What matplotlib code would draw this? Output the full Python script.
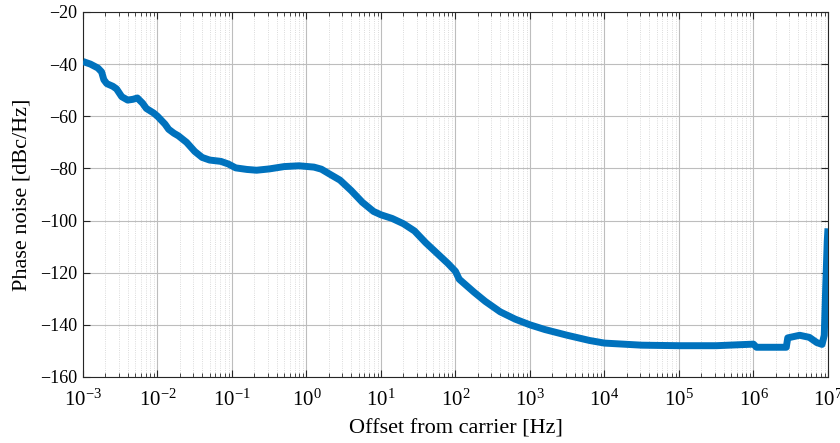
import matplotlib
matplotlib.use("Agg")
import matplotlib.pyplot as plt
from matplotlib.ticker import LogLocator, MultipleLocator, NullFormatter
import numpy as np

# phase noise (log10 of offset in Hz, dBc/Hz)
log_offset = [
    -3.00, -2.90, -2.80, -2.75, -2.72, -2.68, -2.60, -2.55, -2.48, -2.40,
    -2.33, -2.27, -2.20, -2.15, -2.05, -2.00, -1.90, -1.85, -1.78, -1.72,
    -1.61, -1.50, -1.40, -1.30, -1.15, -1.05, -0.95, -0.80, -0.67, -0.50,
    -0.30, -0.10, 0.10, 0.20, 0.30, 0.45, 0.60, 0.75, 0.90, 1.00,
    1.15, 1.30, 1.45, 1.60, 1.75, 1.90, 2.00, 2.05, 2.15, 2.25,
    2.40, 2.60, 2.80, 3.00, 3.20, 3.50, 3.80, 4.00, 4.50, 5.00,
    5.50, 6.00, 6.04, 6.44, 6.46, 6.62, 6.75, 6.85, 6.92, 6.95,
    6.97, 6.99, 7.00,
]
phase_noise = [
    -39.0, -40.0, -41.5, -43.0, -46.0, -47.5, -48.5, -49.5, -52.5, -53.8,
    -53.5, -53.0, -55.0, -57.0, -58.8, -60.0, -63.0, -65.0, -66.5, -67.5,
    -70.0, -73.5, -75.8, -76.8, -77.3, -78.3, -79.8, -80.4, -80.7, -80.2,
    -79.3, -79.0, -79.5, -80.3, -82.0, -84.5, -88.5, -93.0, -96.5, -97.8,
    -99.2, -101.2, -104.0, -108.5, -112.5, -116.5, -119.5, -122.5, -125.0, -127.5,
    -131.0, -135.0, -137.8, -140.0, -141.8, -144.0, -146.0, -147.0, -147.8, -148.0,
    -148.0, -147.4, -148.6, -148.6, -145.0, -144.0, -144.8, -146.8, -147.5, -144.0,
    -125.0, -108.0, -103.0,
]

plt.rcParams["font.family"] = ["Liberation Serif", "DejaVu Serif"]
plt.rcParams["mathtext.fontset"] = "stix"

fig = plt.figure(figsize=(8.4, 4.43), dpi=100)
ax = fig.add_axes([0.0988, 0.149, 0.8869, 0.824])

offset = 10.0 ** np.array(log_offset)
ax.semilogx(offset, phase_noise, color=(0, 0.447, 0.741), linewidth=5,
            solid_capstyle="butt", solid_joinstyle="round", zorder=3)

ax.set_xlim(1e-3, 1e7)
ax.set_ylim(-160, -20)
ax.xaxis.set_major_locator(LogLocator(base=10, numticks=20))
ax.xaxis.set_minor_locator(LogLocator(base=10, subs=np.arange(2, 10), numticks=200))
ax.xaxis.set_minor_formatter(NullFormatter())
ax.yaxis.set_major_locator(MultipleLocator(20))

ax.grid(True, which="major", color="#bdbdbd", linewidth=0.8, linestyle="-")
ax.grid(True, which="minor", axis="x", color="#cfcfcf", linewidth=0.6, linestyle=":")
ax.set_axisbelow(True)

ax.tick_params(which="both", direction="in", top=True, right=True,
               color="#262626")
ax.tick_params(axis="y", labelsize=13, pad=4)
ax.tick_params(axis="x", labelsize=15, pad=9)
ax.tick_params(which="major", length=5)
ax.tick_params(which="minor", length=3)
for s in ax.spines.values():
    s.set_color("#262626")
    s.set_linewidth(0.8)

ax.set_xlabel("Offset from carrier [Hz]", fontsize=16, labelpad=6)
ax.set_ylabel("Phase noise [dBc/Hz]", fontsize=16, labelpad=6)

fig.savefig("out.png", dpi=100)
